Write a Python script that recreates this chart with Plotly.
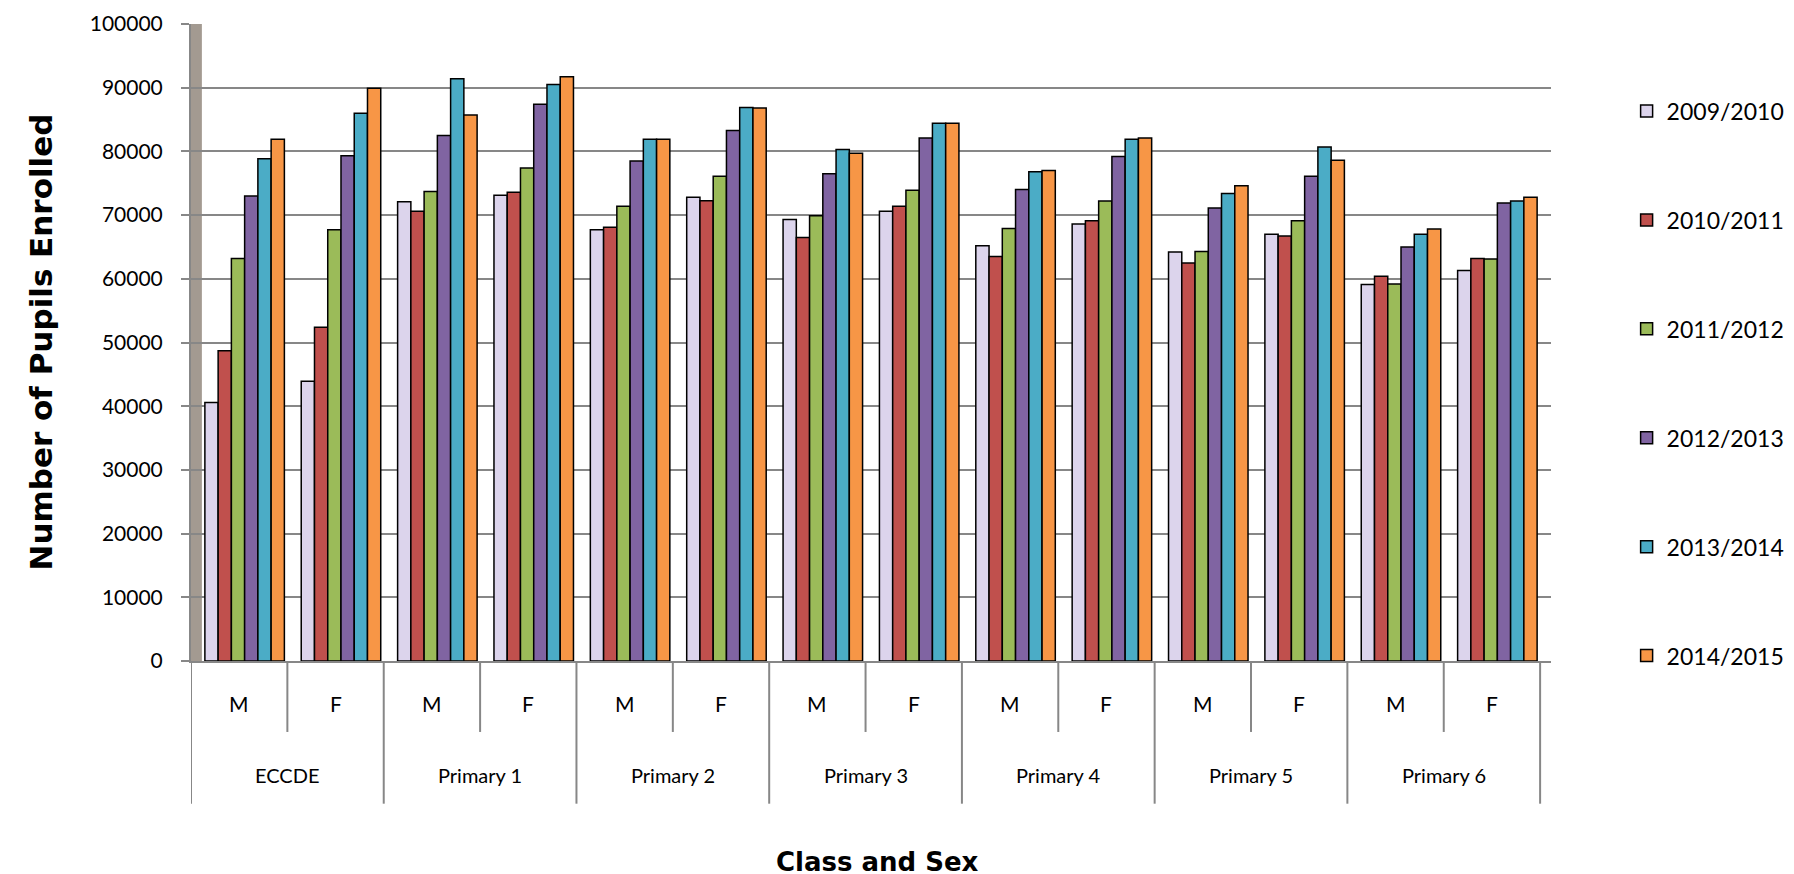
import plotly.graph_objects as go

# class groups and sex sub-categories
classes = ["ECCDE", "Primary 1", "Primary 2", "Primary 3", "Primary 4", "Primary 5", "Primary 6"]
sexes = ["M", "F"]

years = ["2009/2010", "2010/2011", "2011/2012", "2012/2013", "2013/2014", "2014/2015"]
colors = ["#dcd4ec", "#c0504d", "#9bbb59", "#8064a2", "#4bacc6", "#f79646"]

# pupils enrolled per year, order: ECCDE M, ECCDE F, P1 M, P1 F, ... P6 M, P6 F
y2009 = [40600, 43900, 72100, 73100, 67700, 72800, 69300, 70600, 65200, 68600, 64200, 67000, 59100, 61300]
y2010 = [48700, 52400, 70600, 73600, 68100, 72250, 66500, 71400, 63500, 69100, 62500, 66700, 60400, 63200]
y2011 = [63200, 67700, 73700, 77400, 71400, 76100, 69900, 73900, 67900, 72200, 64300, 69100, 59200, 63100]
y2012 = [73000, 79300, 82500, 87400, 78500, 83300, 76500, 82100, 74000, 79200, 71100, 76100, 65000, 71900]
y2013 = [78850, 86000, 91400, 90500, 81900, 86900, 80300, 84400, 76800, 81900, 73400, 80700, 67000, 72200]
y2014 = [81900, 89900, 85700, 91700, 81900, 86800, 79700, 84400, 77000, 82100, 74600, 78600, 67800, 72800]
series = [y2009, y2010, y2011, y2012, y2013, y2014]

y_ticks = list(range(0, 100001, 10000))

# one category per (class, sex)
cats = [f"{c} {s}" for c in classes for s in sexes]
n = len(cats)

grid = "#878787"
bar_w = 0.1375          # width of one bar in category units
start = -0.356          # left edge of first bar (slightly right-shifted like the 3D original)

fig = go.Figure()
for i, (name, vals) in enumerate(zip(years, series)):
    fig.add_trace(go.Bar(
        x=cats,
        y=vals,
        name=name,
        legendgroup=name,
        width=bar_w,
        offset=start + i * bar_w,
        marker=dict(color=colors[i], line=dict(color="black", width=1.5)),
    ))

# side wall, separators and two-level category labels
shapes = [dict(type="rect", xref="paper", yref="y", x0=0, x1=0.008, y0=0, y1=100000,
               fillcolor="#a39a91", line=dict(width=0), layer="below")]
annotations = []
for k in range(len(classes) + 1):
    shapes.append(dict(type="line", xref="x", yref="paper", x0=2 * k - 0.5, x1=2 * k - 0.5,
                       y0=0, y1=-0.224, line=dict(color=grid, width=2)))
for k, c in enumerate(classes):
    shapes.append(dict(type="line", xref="x", yref="paper", x0=2 * k + 0.5, x1=2 * k + 0.5,
                       y0=0, y1=-0.1114, line=dict(color=grid, width=2)))
    annotations.append(dict(text=c, xref="x", yref="paper", x=2 * k + 0.5, y=-0.179,
                            xanchor="center", yanchor="middle", showarrow=False,
                            font=dict(size=20)))
    for j, s in enumerate(sexes):
        annotations.append(dict(text=s, xref="x", yref="paper", x=2 * k + j, y=-0.066,
                                xanchor="center", yanchor="middle", showarrow=False,
                                font=dict(size=21)))
annotations.append(dict(text="<b>Number of Pupils Enrolled</b>", xref="paper", yref="paper",
                        x=-0.111, y=0.5, textangle=-90, xanchor="center", yanchor="middle",
                        showarrow=False, font=dict(family="DejaVu Sans, sans-serif", size=31)))
annotations.append(dict(text="<b>Class and Sex</b>", xref="paper", yref="paper",
                        x=0.505, y=-0.3153, xanchor="center", yanchor="middle",
                        showarrow=False, font=dict(family="DejaVu Sans, sans-serif", size=26)))

fig.update_layout(
    width=1794,
    height=874,
    paper_bgcolor="white",
    plot_bgcolor="white",
    barmode="overlay",
    font=dict(family="Lato, sans-serif", size=20, color="black"),
    margin=dict(l=183, r=243, t=16, b=221),
    showlegend=True,
    legend=dict(
        x=1.0556, xanchor="left", y=0.897, yanchor="top",
        font=dict(size=23), tracegroupgap=76, itemwidth=30,
        bgcolor="rgba(0,0,0,0)",
    ),
    shapes=shapes,
    annotations=annotations,
)
fig.update_yaxes(
    range=[0, 100000], tickvals=y_ticks, tickformat="d",
    showgrid=True, gridcolor=grid, gridwidth=2,
    ticks="outside", ticklen=8, tickcolor=grid, tickwidth=2,
    ticklabelstandoff=14,
    showline=True, linecolor=grid, linewidth=2,
    tickfont=dict(size=21),
    automargin=False, zeroline=False,
)
fig.update_xaxes(
    type="category", categoryorder="array", categoryarray=cats,
    range=[-0.5, n - 0.5 + 0.113],
    showgrid=False, showticklabels=False, ticks="",
    showline=True, linecolor=grid, linewidth=2,
    automargin=False,
)

fig.write_html("out.html")
